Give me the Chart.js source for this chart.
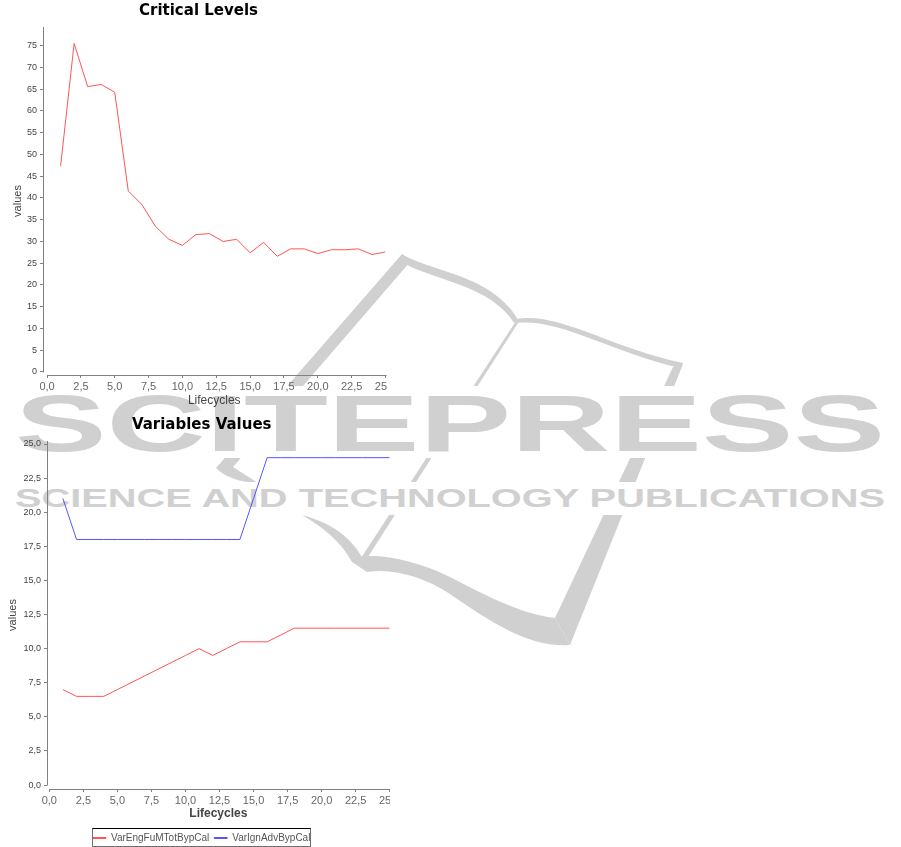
<!DOCTYPE html>
<html>
<head>
<meta charset="utf-8">
<title>Critical Levels / Variables Values</title>
<script src="https://cdn.jsdelivr.net/npm/chart.js@4"></script>
<style>
    html, body { margin: 0; padding: 0; background: #fff; }
    #page { position: relative; width: 901px; height: 847px; overflow: hidden; }
    #mark { position: absolute; left: 0; top: 0; }
    #mark text { font-family: 'Liberation Sans', Arial, sans-serif; font-weight: bold; }
    .box { position: absolute; overflow: hidden; }
    #box1 { left: 0; top: 0; width: 388px; height: 412px; }
    #box2 { left: 0; top: 414px; width: 390px; height: 433px; }
</style>
</head>
<body>
<div id="page">
    <!-- publisher watermark behind the charts -->
    <svg id="mark" width="901" height="847" fill="#d0d0d0">
        <path d="M402,254 L410,262 L233,467 L258,483 C240,482 226,478 216,468 Z"/>
        <path d="M402,254 C430,272 492,274 518,320 L514,323 C490,284 430,280 402,262 Z"/>
        <path d="M516,319 C560,312 610,348 683,363 L680,368 C610,352 560,318 516,323 Z"/>
        <path d="M683,364 L570,645 L555,618 L673,367 Z"/>
        <path d="M302,515 C340,525 355,545 362,557 C380,553 420,562 450,577 C485,595 520,614 555,618 L570,645 C530,648 490,622 450,594 C425,578 395,568 367,572 L352,562 C340,540 322,527 302,515 Z"/>
        <path d="M516,321 L518,323 L366,560 L361,558 Z"/>
        <rect x="0" y="386" width="901" height="72" fill="#fff"/>
        <rect x="0" y="482" width="901" height="33" fill="#fff"/>
        <text x="15" y="451" font-size="80" textLength="870" lengthAdjust="spacingAndGlyphs">SCITEPRESS</text>
        <text x="15" y="507" font-size="25" textLength="870" lengthAdjust="spacingAndGlyphs">SCIENCE AND TECHNOLOGY PUBLICATIONS</text>
    </svg>
    <div class="box" id="box1"><canvas id="criticalChart" width="420" height="412"></canvas></div>
    <div class="box" id="box2"><canvas id="variablesChart" width="420" height="433"></canvas></div>
</div>

<script>
const lifecycles = [1, 2, 3, 4, 5, 6, 7, 8, 9, 10, 11, 12, 13, 14, 15, 16, 17, 18, 19, 20, 21, 22, 23, 24, 25];

const criticalValues = [47.3, 75.5, 65.6, 66.1, 64.3, 41.6, 38.5, 33.5, 30.5, 29.1, 31.6, 31.8, 30, 30.5, 27.4, 29.8, 26.6, 28.3, 28.3, 27.2, 28.1, 28.1, 28.3, 27, 27.6];
const fuelValues = [7, 6.5, 6.5, 6.5, 7, 7.5, 8, 8.5, 9, 9.5, 10, 9.5, 10, 10.5, 10.5, 10.5, 11, 11.5, 11.5, 11.5, 11.5, 11.5, 11.5, 11.5, 11.5];
const ignitionValues = [21, 18, 18, 18, 18, 18, 18, 18, 18, 18, 18, 18, 18, 18, 21, 24, 24, 24, 24, 24, 24, 24, 24, 24, 24];

const xTicks = [0, 2.5, 5, 7.5, 10, 12.5, 15, 17.5, 20, 22.5, 25];
const criticalTicks = [0, 5, 10, 15, 20, 25, 30, 35, 40, 45, 50, 55, 60, 65, 70, 75];
const variableTicks = [0, 2.5, 5, 7.5, 10, 12.5, 15, 17.5, 20, 22.5, 25];

const RED = "#ff5555";
const BLUE = "#5555ff";
const AXIS = "#808080";
const SANS = "'Liberation Sans', Arial, sans-serif";

const comma = v => v.toFixed(1).replace(".", ",");

function points(values) {
    return values.map((v, i) => ({ x: lifecycles[i], y: v }));
}

function line(label, values, color) {
    return {
        label: label,
        data: points(values),
        borderColor: color,
        backgroundColor: color,
        borderWidth: 1,
        pointRadius: 0,
        tension: 0
    };
}

// the title and legend sit a bit right of the plot's own centre
const blockCentre = {
    id: "blockCentre",
    afterLayout(chart, args, opts) {
        chart.titleBlock.left = 0;
        chart.titleBlock.right = 2 * opts.centre;
        if (chart.legend.options.display) {
            chart.legend.left = 0;
            chart.legend.right = 2 * opts.centre;
        }
    }
};

// axis lines stop at the first and last tick, like the original plot
const axisLines = {
    id: "axisLines",
    afterDraw(chart) {
        const { ctx, chartArea, scales } = chart;
        const first = scales.x.getPixelForValue(0);
        const last = scales.x.getPixelForValue(25);
        const zero = scales.y.getPixelForValue(0);
        ctx.save();
        ctx.strokeStyle = AXIS;
        ctx.lineWidth = 1;
        ctx.beginPath();
        ctx.moveTo(Math.round(first) + 0.5, chartArea.bottom + 0.5);
        ctx.lineTo(Math.round(last) + 0.5, chartArea.bottom + 0.5);
        ctx.moveTo(chartArea.left + 0.5, chartArea.top);
        ctx.lineTo(chartArea.left + 0.5, Math.round(zero) + 0.5);
        ctx.stroke();
        ctx.restore();
    }
};

const legendFrame = {
    id: "legendFrame",
    afterDraw(chart) {
        if (!chart.options.plugins.legend.display) return;
        const { ctx } = chart;
        const l = 92.5, r = 310.5, t = 414.5, b = chart.height - 0.5;
        ctx.save();
        ctx.strokeStyle = "#707070";
        ctx.strokeRect(l, t, r - l, b - t);
        ctx.strokeStyle = "#000";
        ctx.beginPath();
        ctx.moveTo(l, t);
        ctx.lineTo(r, t);
        ctx.stroke();
        ctx.restore();
    }
};

function drawChart(id, cfg) {
    return new Chart(document.getElementById(id), {
        type: "line",
        data: { datasets: cfg.datasets },
        plugins: [blockCentre, axisLines, legendFrame],
        options: {
            responsive: false,
            animation: false,
            layout: { padding: { right: cfg.rightPad, bottom: cfg.bottomPad } },
            plugins: {
                blockCentre: { centre: cfg.centre },
                title: {
                    display: true,
                    text: cfg.title,
                    color: "#000",
                    font: { family: "'DejaVu Sans'", size: 15, weight: "bold", lineHeight: 1.2 },
                    padding: { top: 2, bottom: 7 }
                },
                legend: {
                    display: cfg.legend,
                    position: "bottom",
                    labels: {
                        boxWidth: 13,
                        boxHeight: 1,
                        padding: 5,
                        color: "#555",
                        font: { family: SANS, size: 10 }
                    }
                },
                tooltip: { enabled: false }
            },
            scales: {
                x: {
                    type: "linear",
                    min: cfg.xMin,
                    max: 25,
                    afterBuildTicks: s => { s.ticks = xTicks.map(v => ({ value: v })); },
                    afterFit: s => { s.height = cfg.xHeight; },
                    border: { display: false },
                    grid: { drawOnChartArea: false, tickLength: 3, color: AXIS },
                    ticks: {
                        autoSkip: false,
                        maxRotation: 0,
                        padding: 2,
                        color: "#666",
                        font: { family: SANS, size: 11 },
                        callback: comma
                    },
                    title: {
                        display: true,
                        text: "Lifecycles",
                        color: "#444",
                        font: { family: SANS, size: 12, weight: cfg.xTitleWeight },
                        padding: { top: 0, bottom: cfg.xTitleGap }
                    }
                },
                y: {
                    min: cfg.yMin,
                    max: cfg.yMax,
                    afterBuildTicks: s => { s.ticks = cfg.yTicks.map(v => ({ value: v })); },
                    afterFit: s => { s.width = cfg.yWidth; },
                    border: { display: false },
                    grid: { drawOnChartArea: false, tickLength: 3, color: AXIS },
                    ticks: {
                        autoSkip: false,
                        padding: 3,
                        color: "#444",
                        font: { family: SANS, size: 9 },
                        callback: cfg.yFormat
                    },
                    title: {
                        display: true,
                        text: "values",
                        color: "#444",
                        font: { family: SANS, size: 11 },
                        padding: { top: cfg.yTitleGap, bottom: 0 }
                    }
                }
            }
        }
    });
}

drawChart("criticalChart", {
    title: "Critical Levels",
    centre: 198.5,
    datasets: [line("Critical Levels", criticalValues, RED)],
    legend: false,
    rightPad: 34.5, bottomPad: 0,
    xMin: -0.3, xHeight: 37, xTitleWeight: "normal", xTitleGap: 4,
    yMin: -0.69, yMax: 79.3, yTicks: criticalTicks, yWidth: 43, yTitleGap: 11,
    yFormat: v => String(v)
});

drawChart("variablesChart", {
    title: "Variables Values",
    centre: 201.7,
    datasets: [
        line("VarEngFuMTotBypCal", fuelValues, RED),
        line("VarIgnAdvBypCal", ignitionValues, BLUE)
    ],
    legend: true,
    rightPad: 30.3, bottomPad: -6,
    xMin: -0.17, xHeight: 39, xTitleWeight: "bold", xTitleGap: 7,
    yMin: -0.29, yMax: 25.22, yTicks: variableTicks, yWidth: 47, yTitleGap: 6,
    yFormat: comma
});
</script>
</body>
</html>
